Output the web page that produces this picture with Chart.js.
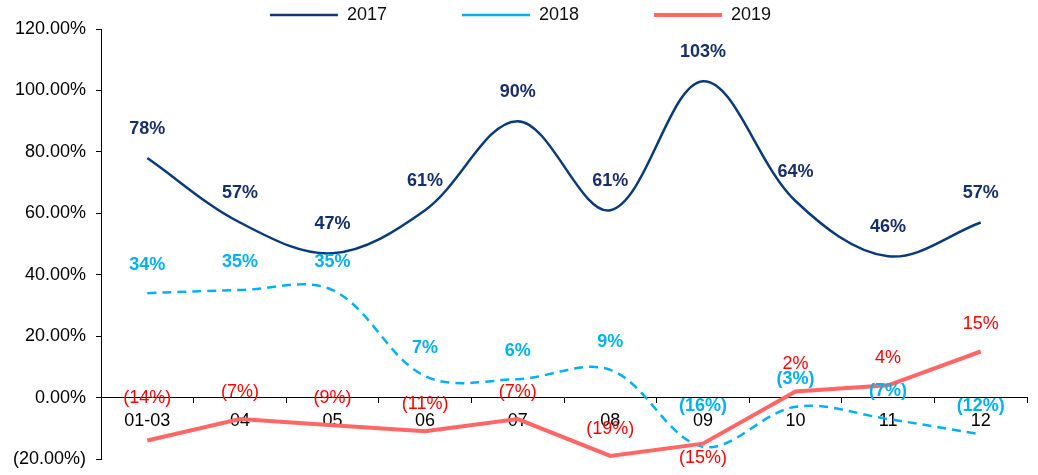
<!DOCTYPE html>
<html>
<head>
<meta charset="utf-8">
<script src="https://cdn.jsdelivr.net/npm/chart.js@4/dist/chart.umd.min.js"></script>
<style>
  html, body { margin: 0; padding: 0; background: #fff; }
  #wrap { width: 1038px; height: 475px; }
</style>
</head>
<body>
<div id="wrap"><canvas id="grafico"></canvas></div>
<script>
var meses = ['01-03', '04', '05', '06', '07', '08', '09', '10', '11', '12'];
var anos = ['2017', '2018', '2019'];

var valores2017 = [78, 57, 47, 61, 90, 61, 103, 64, 46, 57];
var valores2018 = [34, 35, 35, 7, 6, 9, -16, -3, -7, -12];
var valores2019 = [-14, -7, -9, -11, -7, -19, -15, 2, 4, 15];

var ticksY = [-20, 0, 20, 40, 60, 80, 100, 120];

// deslocamento vertical dos rótulos (px), com exceções por ponto
var deslocRotulo = [-29, -28, -27];
var excecoes = { '1-6': -41, '2-0': -43, '2-6': 14 };

var fonte = '"Liberation Sans", Arial, sans-serif';
var espacos = '               ';

function fmtPct(v) {
    return v < 0 ? '(' + Math.abs(v) + '%)' : v + '%';
}

var rotulos = {
    id: 'rotulos',
    afterDatasetsDraw: function (chart) {
        var ctx = chart.ctx;
        ctx.save();
        ctx.textAlign = 'center';
        ctx.textBaseline = 'middle';
        chart.data.datasets.forEach(function (ds, i) {
            var meta = chart.getDatasetMeta(i);
            ctx.fillStyle = ds.corRotulo;
            ctx.font = ds.fonteRotulo;
            meta.data.forEach(function (p, k) {
                var d = excecoes[i + '-' + k];
                if (d === undefined) d = deslocRotulo[i];
                ctx.fillText(fmtPct(ds.data[k]), p.x, p.y + d);
            });
        });
        ctx.restore();
    }
};

new Chart(document.getElementById('grafico'), {
    type: 'line',
    data: {
        labels: meses,
        datasets: [{
            label: anos[0],
            data: valores2017,
            borderColor: '#0A3A7A',
            backgroundColor: '#0A3A7A',
            borderWidth: 2.5,
            tension: 0.35,
            pointRadius: 0,
            pointStyle: 'line',
            order: 2,
            corRotulo: '#172F6A',
            fonteRotulo: 'bold 18px ' + fonte
        }, {
            label: anos[1],
            data: valores2018,
            borderColor: '#00B0F0',
            backgroundColor: '#00B0F0',
            borderWidth: 2.5,
            borderDash: [9, 6],
            tension: 0.35,
            pointRadius: 0,
            pointStyle: 'line',
            order: 1,
            corRotulo: '#00B0F0',
            fonteRotulo: 'bold 18px ' + fonte
        }, {
            label: anos[2],
            data: valores2019,
            borderColor: '#FF6666',
            backgroundColor: '#FF6666',
            borderWidth: 4,
            tension: 0,
            pointRadius: 0,
            pointStyle: 'line',
            order: 0,
            corRotulo: '#FF0000',
            fonteRotulo: '18px ' + fonte
        }]
    },
    options: {
        responsive: true,
        maintainAspectRatio: false,
        animation: false,
        layout: {
            padding: { top: 6, right: 11, bottom: 16, left: 14 }
        },
        plugins: {
            legend: {
                position: 'top',
                maxHeight: 23,
                labels: {
                    usePointStyle: true,
                    pointStyleWidth: 68,
                    boxHeight: 10,
                    padding: 0,
                    color: '#111',
                    font: { family: fonte, size: 18 },
                    sort: function (a, b) { return a.datasetIndex - b.datasetIndex; },
                    generateLabels: function (chart) {
                        var itens = Chart.defaults.plugins.legend.labels.generateLabels(chart);
                        itens.forEach(function (it) {
                            if (it.datasetIndex < anos.length - 1) it.text += espacos;
                        });
                        return itens;
                    }
                }
            },
            tooltip: { enabled: false }
        },
        scales: {
            x: {
                position: { y: 0 },
                offset: true,
                afterFit: function (s) { s.height = 0; },
                grid: {
                    offset: true,
                    drawOnChartArea: false,
                    drawTicks: true,
                    tickLength: 5,
                    color: '#000'
                },
                border: { color: '#000', width: 1 },
                ticks: {
                    color: '#000',
                    padding: 8,
                    maxRotation: 0,
                    font: { family: fonte, size: 18 }
                }
            },
            y: {
                min: ticksY[0],
                max: ticksY[ticksY.length - 1],
                afterFit: function (s) {
                    s.width = 87;
                    s.paddingTop = 0;
                    s.paddingBottom = 0;
                },
                afterBuildTicks: function (s) {
                    s.ticks = ticksY.map(function (v) { return { value: v }; });
                },
                grid: {
                    drawOnChartArea: false,
                    tickLength: 5,
                    color: '#000'
                },
                border: { color: '#000', width: 1 },
                ticks: {
                    color: '#000',
                    padding: 10,
                    font: { family: fonte, size: 18 },
                    callback: function (v) {
                        return v < 0 ? '(' + Math.abs(v).toFixed(2) + '%)' : v.toFixed(2) + '%';
                    }
                }
            }
        }
    },
    plugins: [rotulos]
});
</script>
</body>
</html>
